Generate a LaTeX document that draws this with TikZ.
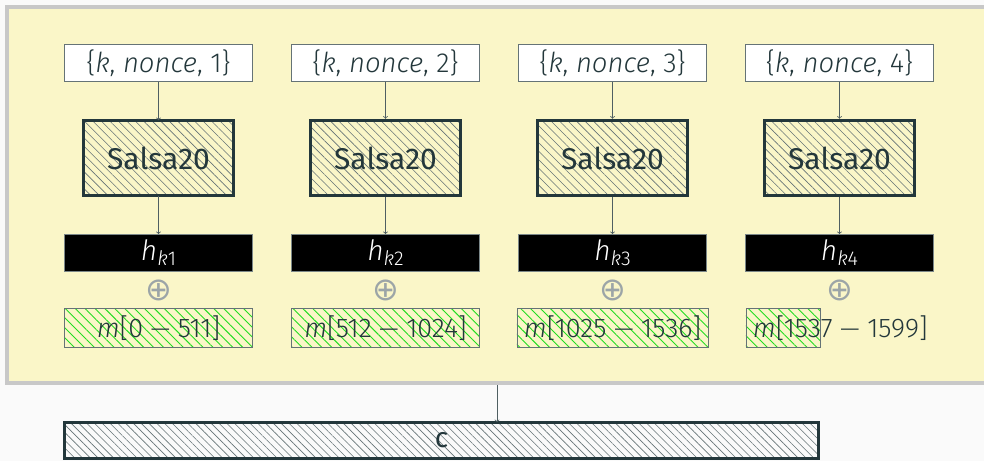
\documentclass[tikz,border=0pt]{standalone}
\usepackage{fontspec}
\setmainfont{Fira Sans}
\newfontfamily\lightfont{Fira Sans Light}
\newfontfamily\symfont{DejaVu Sans}
\usetikzlibrary{patterns.meta}

\definecolor{darkteal}{HTML}{23373B}
\definecolor{panelyellow}{HTML}{FAF6C8}
\definecolor{panelgray}{HTML}{C8C8C8}
\definecolor{pagegray}{HTML}{FAFAFA}
\definecolor{hatchgreen}{HTML}{22DD22}

\newcommand{\hkey}[1]{\textit{h}\raisebox{-0.35ex}{\fontsize{20}{22}\selectfont\textit{k}#1}}
\newcommand{\minus}{{\fontsize{25}{26}\selectfont —}}

\begin{document}
\begin{tikzpicture}[
    x={(1pt,0pt)},
    y={(0pt,-1pt)},
    >=to,
    panel/.style={draw=panelgray,line width=4pt,fill=panelyellow,minimum width=980pt,minimum height=376pt},
    inputbox/.style={draw=darkteal!70,fill=white,line width=0.8pt,minimum width=188pt,minimum height=37pt,inner sep=0pt,text=darkteal,font=\lightfont\fontsize{27.5}{30}\selectfont},
    salsabox/.style={draw=darkteal,line width=3.5pt,pattern={Lines[angle=-45,distance=6pt,line width=0.6pt]},pattern color=darkteal!70,minimum width=150pt,minimum height=75pt,text=darkteal,font=\fontsize{30}{34}\selectfont},
    hbox/.style={draw=darkteal!60,fill=black,line width=0.8pt,minimum width=188pt,minimum height=37pt,inner sep=0pt,text=white,font=\lightfont\fontsize{28}{30}\selectfont},
    mbox/.style={draw=darkteal!70,line width=0.8pt,pattern={Lines[angle=-45,distance=7pt,line width=0.9pt]},pattern color=hatchgreen,minimum height=37pt,inner sep=7pt,text=darkteal,font=\lightfont\fontsize{27}{30}\selectfont},
    xorsign/.style={text=darkteal!45,font=\symfont\fontsize{32}{34}\selectfont,inner sep=0pt},
    cbox/.style={draw=darkteal,line width=3.5pt,pattern={Lines[angle=-45,distance=5.5pt,line width=0.6pt]},pattern color=darkteal!70,minimum width=754pt,minimum height=36pt,inner sep=0pt,text=darkteal,font=\fontsize{28}{30}\selectfont},
    link/.style={->,draw=darkteal!80,line width=0.8pt}
]

% -------------------------------------------------
% Background and panel
% -------------------------------------------------

\fill[pagegray] (0,0) rectangle (984,461);
\useasboundingbox (0,0) rectangle (984,461);

\node[panel] (panel) at (497,195) {};

% -------------------------------------------------
% Inputs
% -------------------------------------------------

\node[inputbox] (in1) at (158.5,63) {\{\textit{k}, \textit{nonce}, 1\}};
\node[inputbox] (in2) at (385.5,63) {\{\textit{k}, \textit{nonce}, 2\}};
\node[inputbox] (in3) at (612.5,63) {\{\textit{k}, \textit{nonce}, 3\}};
\node[inputbox] (in4) at (839.5,63) {\{\textit{k}, \textit{nonce}, 4\}};

% -------------------------------------------------
% Salsa20 blocks
% -------------------------------------------------

\node[salsabox] (s1) at (158.5,158) {Salsa20};
\node[salsabox] (s2) at (385.5,158) {Salsa20};
\node[salsabox] (s3) at (612.5,158) {Salsa20};
\node[salsabox] (s4) at (839.5,158) {Salsa20};

% -------------------------------------------------
% Keystream blocks
% -------------------------------------------------

\node[hbox] (h1) at (158.5,253) {\hkey{1}};
\node[hbox] (h2) at (385.5,253) {\hkey{2}};
\node[hbox] (h3) at (612.5,253) {\hkey{3}};
\node[hbox] (h4) at (839.5,253) {\hkey{4}};

\node[xorsign] (x1) at (158.5,290) {⊕};
\node[xorsign] (x2) at (385.5,290) {⊕};
\node[xorsign] (x3) at (612.5,290) {⊕};
\node[xorsign] (x4) at (839.5,290) {⊕};

% -------------------------------------------------
% Message blocks
% -------------------------------------------------

\node[mbox,minimum width=188pt] (m1) at (158.5,328) {\textit{m}[0 \minus{} 511]};
\node[mbox,minimum width=188pt] (m2) at (385.5,328) {\textit{m}[512 \minus{} 1024]};
\node[mbox,minimum width=188pt] (m3) at (612.5,328) {\textit{m}[1025 \minus{} 1536]};
\node[mbox,minimum width=74pt,anchor=west] (m4) at (745.5,328) {\makebox[60pt][l]{\textit{m}[1537 \minus{} 1599]}};

% -------------------------------------------------
% Arrows
% -------------------------------------------------

\draw[link] (in1) -- (s1);
\draw[link] (in2) -- (s2);
\draw[link] (in3) -- (s3);
\draw[link] (in4) -- (s4);

\draw[link] (s1) -- (h1);
\draw[link] (s2) -- (h2);
\draw[link] (s3) -- (h3);
\draw[link] (s4) -- (h4);

% -------------------------------------------------
% Ciphertext
% -------------------------------------------------

\node[cbox] (c) at (441.5,440.5) {c};

\draw[link] (panel.south) -- (panel.south |- c.north);

\end{tikzpicture}
\end{document}
